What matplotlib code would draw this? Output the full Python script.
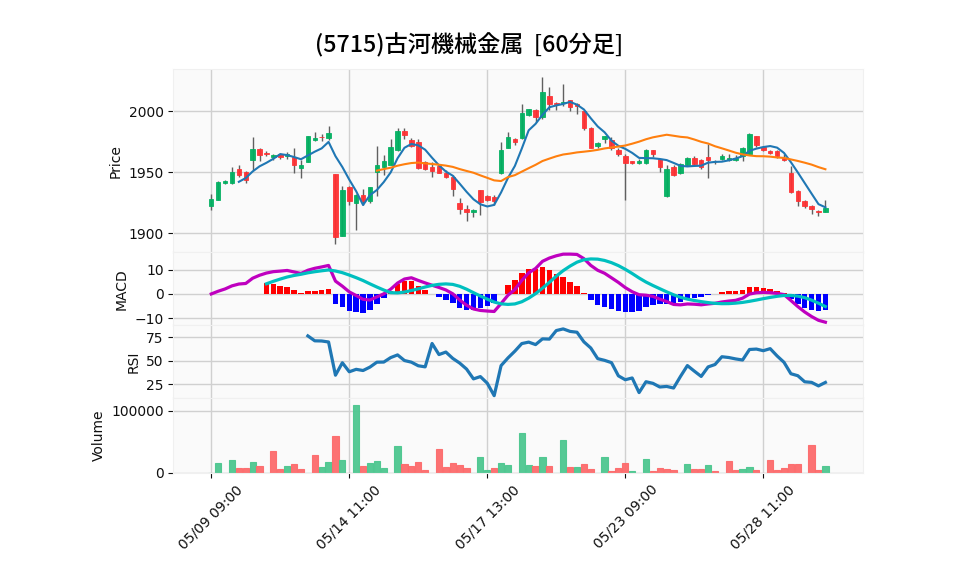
import numpy as np
import pandas as pd
import matplotlib
matplotlib.use('Agg')
import matplotlib.pyplot as plt

plt.rcParams['font.family'] = ['DejaVu Sans', 'Noto Sans CJK JP']

title = '(5715)古河機械金属  [60分足]'

opens = [1922.5, 1927.5, 1941.5, 1941, 1953, 1950.5, 1960, 1969, 1966, 1962.5,
         1964.5, 1963.5, 1962.5, 1953.5, 1958.5, 1976, 1979, 1978, 1948.5, 1898,
         1938, 1925, 1931.5, 1926.5, 1950, 1954, 1956, 1968, 1983.5, 1976.5,
         1974.5, 1958.5, 1954, 1955, 1949, 1946, 1925, 1920, 1917.5, 1935,
         1930.5, 1930, 1949, 1970, 1977, 1978, 1997, 2001, 1995.5, 2012.5,
         2006.5, 2007, 2009.5, 2006, 2000, 1986, 1971.5, 1977, 1976, 1968.5,
         1963, 1959, 1957.5, 1957.5, 1968, 1960.5, 1930.5, 1954.5, 1949, 1955.5,
         1962, 1960, 1962.5, 1959, 1960.5, 1960, 1960, 1963.5, 1964.5, 1979.5,
         1970.5, 1967, 1967.5, 1962, 1949.5, 1934.5, 1926.5, 1922, 1918.5, 1917.5]
highs = [1932, 1943, 1943.5, 1954, 1956, 1951, 1979, 1970, 1967, 1964.5,
         1966, 1966.5, 1970, 1960, 1980, 1983, 1981.5, 1988, 1948.5, 1939,
         1939, 1932, 1936.5, 1938, 1971.5, 1964, 1977, 1986, 1986, 1978,
         1977.5, 1959, 1958.5, 1955.5, 1951.5, 1947.5, 1928.5, 1923.5, 1919.5, 1935.5,
         1931.5, 1931, 1975, 1983, 1978, 2006, 2001.5, 2001.5, 2028, 2019.5,
         2007.5, 2022.5, 2009.5, 2007, 2000, 1987, 1974.5, 1980, 1978.5, 1970,
         1965, 1959.5, 1961, 1969, 1968.5, 1961, 1955.5, 1955.5, 1957.5, 1962.5,
         1963, 1960.5, 1973, 1960, 1964.5, 1965, 1964, 1970.5, 1982, 1980,
         1971, 1968, 1968, 1965, 1955, 1935, 1927.5, 1923, 1919, 1927]
lows = [1919, 1927, 1940.5, 1940, 1946, 1941, 1952, 1959, 1963.5, 1960,
        1960.5, 1960.5, 1949, 1945, 1958, 1975.5, 1975.5, 1976, 1891, 1897.5,
        1923.5, 1902.5, 1923.5, 1925, 1930.5, 1948, 1955.5, 1967, 1977.5, 1971,
        1953, 1952, 1946, 1949, 1945, 1930.5, 1916, 1910, 1913, 1915,
        1926.5, 1923, 1948.5, 1969.5, 1972.5, 1977.5, 1996, 1991.5, 1993.5, 2001,
        2001, 2004, 2000.5, 1998, 1984.5, 1969.5, 1969.5, 1973.5, 1968.5, 1963.5,
        1927, 1956.5, 1957, 1957, 1962.5, 1950.5, 1930, 1946.5, 1948.5, 1955,
        1955, 1953, 1945.5, 1957, 1960, 1959, 1959.5, 1959.5, 1964, 1970.5,
        1967.5, 1964.5, 1962, 1959, 1933, 1922, 1921, 1915.5, 1914.5, 1917.5]
closes = [1928, 1942, 1943, 1950, 1947.5, 1943.5, 1969, 1964, 1964.5, 1964,
          1962.5, 1965, 1956, 1955.5, 1979.5, 1978, 1978.5, 1982.5, 1897, 1935,
          1926.5, 1931, 1926, 1937.5, 1956, 1959, 1970.5, 1984, 1980.5, 1971.5,
          1953.5, 1952.5, 1951, 1949.5, 1946, 1936.5, 1920, 1917.5, 1919, 1925.5,
          1927.5, 1926.5, 1968.5, 1978.5, 1974.5, 1998.5, 2001.5, 1995, 2015.5, 2005.5,
          2006, 2007.5, 2003.5, 2004, 1986, 1970, 1974, 1979.5, 1969.5, 1965,
          1957.5, 1957.5, 1959, 1968.5, 1964.5, 1954.5, 1953, 1947.5, 1956.5, 1962,
          1956.5, 1954, 1960, 1959.5, 1963, 1962, 1961.5, 1969.5, 1981.5, 1972,
          1968.5, 1965.5, 1963, 1960, 1934, 1926.5, 1922, 1919.5, 1917, 1921]
volumes = [0, 16400, 0, 21300, 8200, 8200, 18000, 11500, 0, 34400,
           6600, 11500, 14800, 6600, 0, 27900, 9800, 18000, 59000, 21300,
           0, 109800, 10900, 16400, 19700, 8200, 0, 42600, 14200, 10900,
           17500, 4900, 0, 37700, 9800, 16400, 12600, 8200, 0, 26200,
           4900, 8200, 16400, 13100, 0, 63900, 13100, 10900, 24600, 10900,
           0, 52500, 9800, 9800, 14200, 6600, 0, 24600, 2700, 8200,
           16400, 2700, 0, 22900, 2700, 8200, 6600, 4400, 0, 14200,
           6600, 6600, 13100, 2700, 0, 19700, 4400, 6600, 9800, 4400,
           0, 21300, 4400, 8200, 14200, 14200, 0, 44300, 4400, 11500]

tick_pos = [0, 20, 40, 60, 80]
tick_labels = ['05/09 09:00', '05/14 11:00', '05/17 13:00', '05/23 09:00', '05/28 11:00']

o = np.array(opens, float)
h = np.array(highs, float)
l = np.array(lows, float)
c = np.array(closes, float)
v = np.array(volumes, float)
n = len(c)
x = np.arange(n)

cs = pd.Series(c)
ma5 = cs.rolling(5).mean()
ma25 = cs.rolling(25).mean()
ema12 = cs.ewm(span=12, adjust=False).mean()
ema26 = cs.ewm(span=26, adjust=False).mean()
macd = ema12 - ema26
signal = macd.rolling(9).mean()
hist = macd - signal
delta = cs.diff()
gain = delta.clip(lower=0).rolling(14).mean()
loss = (-delta.clip(upper=0)).rolling(14).mean()
rsi = 100 - 100 / (1 + gain / loss)

UP, DOWN = '#00b060', '#fe3032'
VUP, VDOWN = '#4dc790', '#fd6b6c'
FACE = '#fafafa'
GRID = '#d0d0d0'

fig = plt.figure(figsize=(9.58, 5.75), dpi=100)
L, W = 0.1809, 0.7203
ax1 = fig.add_axes([L, 0.5609, W, 0.3186])
ax2 = fig.add_axes([L, 0.4348, W, 0.1261], sharex=ax1)
ax3 = fig.add_axes([L, 0.3078, W, 0.1270], sharex=ax1)
ax4 = fig.add_axes([L, 0.1779, W, 0.1299], sharex=ax1)

for ax in (ax1, ax2, ax3, ax4):
    ax.set_facecolor(FACE)
    ax.grid(True, color=GRID, linewidth=1.0)
    ax.set_axisbelow(True)
    for s in ax.spines.values():
        s.set_color('#f0f0f0')
    ax.tick_params(colors='#101010', labelsize=10)
    ax.yaxis.label.set_color('#101010')

# Price
up = c >= o
colors = np.where(up, UP, DOWN)
ax1.vlines(x, l, h, color='#606060', linewidth=1.0, zorder=2)
body_h = np.where(np.abs(c - o) < 0.3, 0.3, c - o)
ax1.bar(x, body_h, bottom=o, width=0.65, color=colors, edgecolor=colors,
        linewidth=0.6, alpha=0.95, zorder=3)
ax1.plot(x, ma5, color='#1f77b4', linewidth=1.5, zorder=4)
ax1.plot(x, ma25, color='#ff7f0e', linewidth=1.5, zorder=4)
ax1.set_ylim(1884.2, 2034.3)
ax1.set_yticks([1900, 1950, 2000])
ax1.set_ylabel('Price')

# MACD
hcol = np.where(hist >= 0, 'red', 'blue')
ax2.bar(x, hist, width=0.8, color=hcol, zorder=2)
ax2.plot(x, macd, color='#bf00bf', linewidth=2.3, zorder=3)
ax2.plot(x, signal, color='#00bfbf', linewidth=2.3, zorder=3)
ax2.set_ylim(-12.8, 17.1)
ax2.set_yticks([-10, 0, 10])
ax2.set_ylabel('MACD')

# RSI
ax3.plot(x, rsi, color='#1f77b4', linewidth=2.3)
ax3.set_ylim(10.4, 88)
ax3.set_yticks([25, 50, 75])
ax3.set_ylabel('RSI')

# Volume
vup = np.concatenate([[True], c[1:] >= c[:-1]])
vcol = np.where(vup, VUP, VDOWN)
ax4.bar(x, v, width=0.9, color=vcol, edgecolor=vcol, linewidth=0.8, alpha=0.95)
ax4.set_ylim(0, v.max() * 1.1)
ax4.set_yticks([0, 100000])
ax4.set_yticklabels(['0', '100000'])
ax4.set_ylabel('Volume')

ax1.set_xlim(-5.5, 94.5)
ax4.set_xticks(tick_pos)
ax4.set_xticklabels(tick_labels, rotation=45, ha='center')
for ax in (ax1, ax2, ax3):
    ax.tick_params(axis='x', which='both', length=0, labelbottom=False)

fig.suptitle(title, fontsize=16.7, fontweight='medium', x=0.49, y=0.922,
             va='center', family=['Noto Sans CJK JP', 'DejaVu Sans'])

fig.savefig('out.png', dpi=100)
